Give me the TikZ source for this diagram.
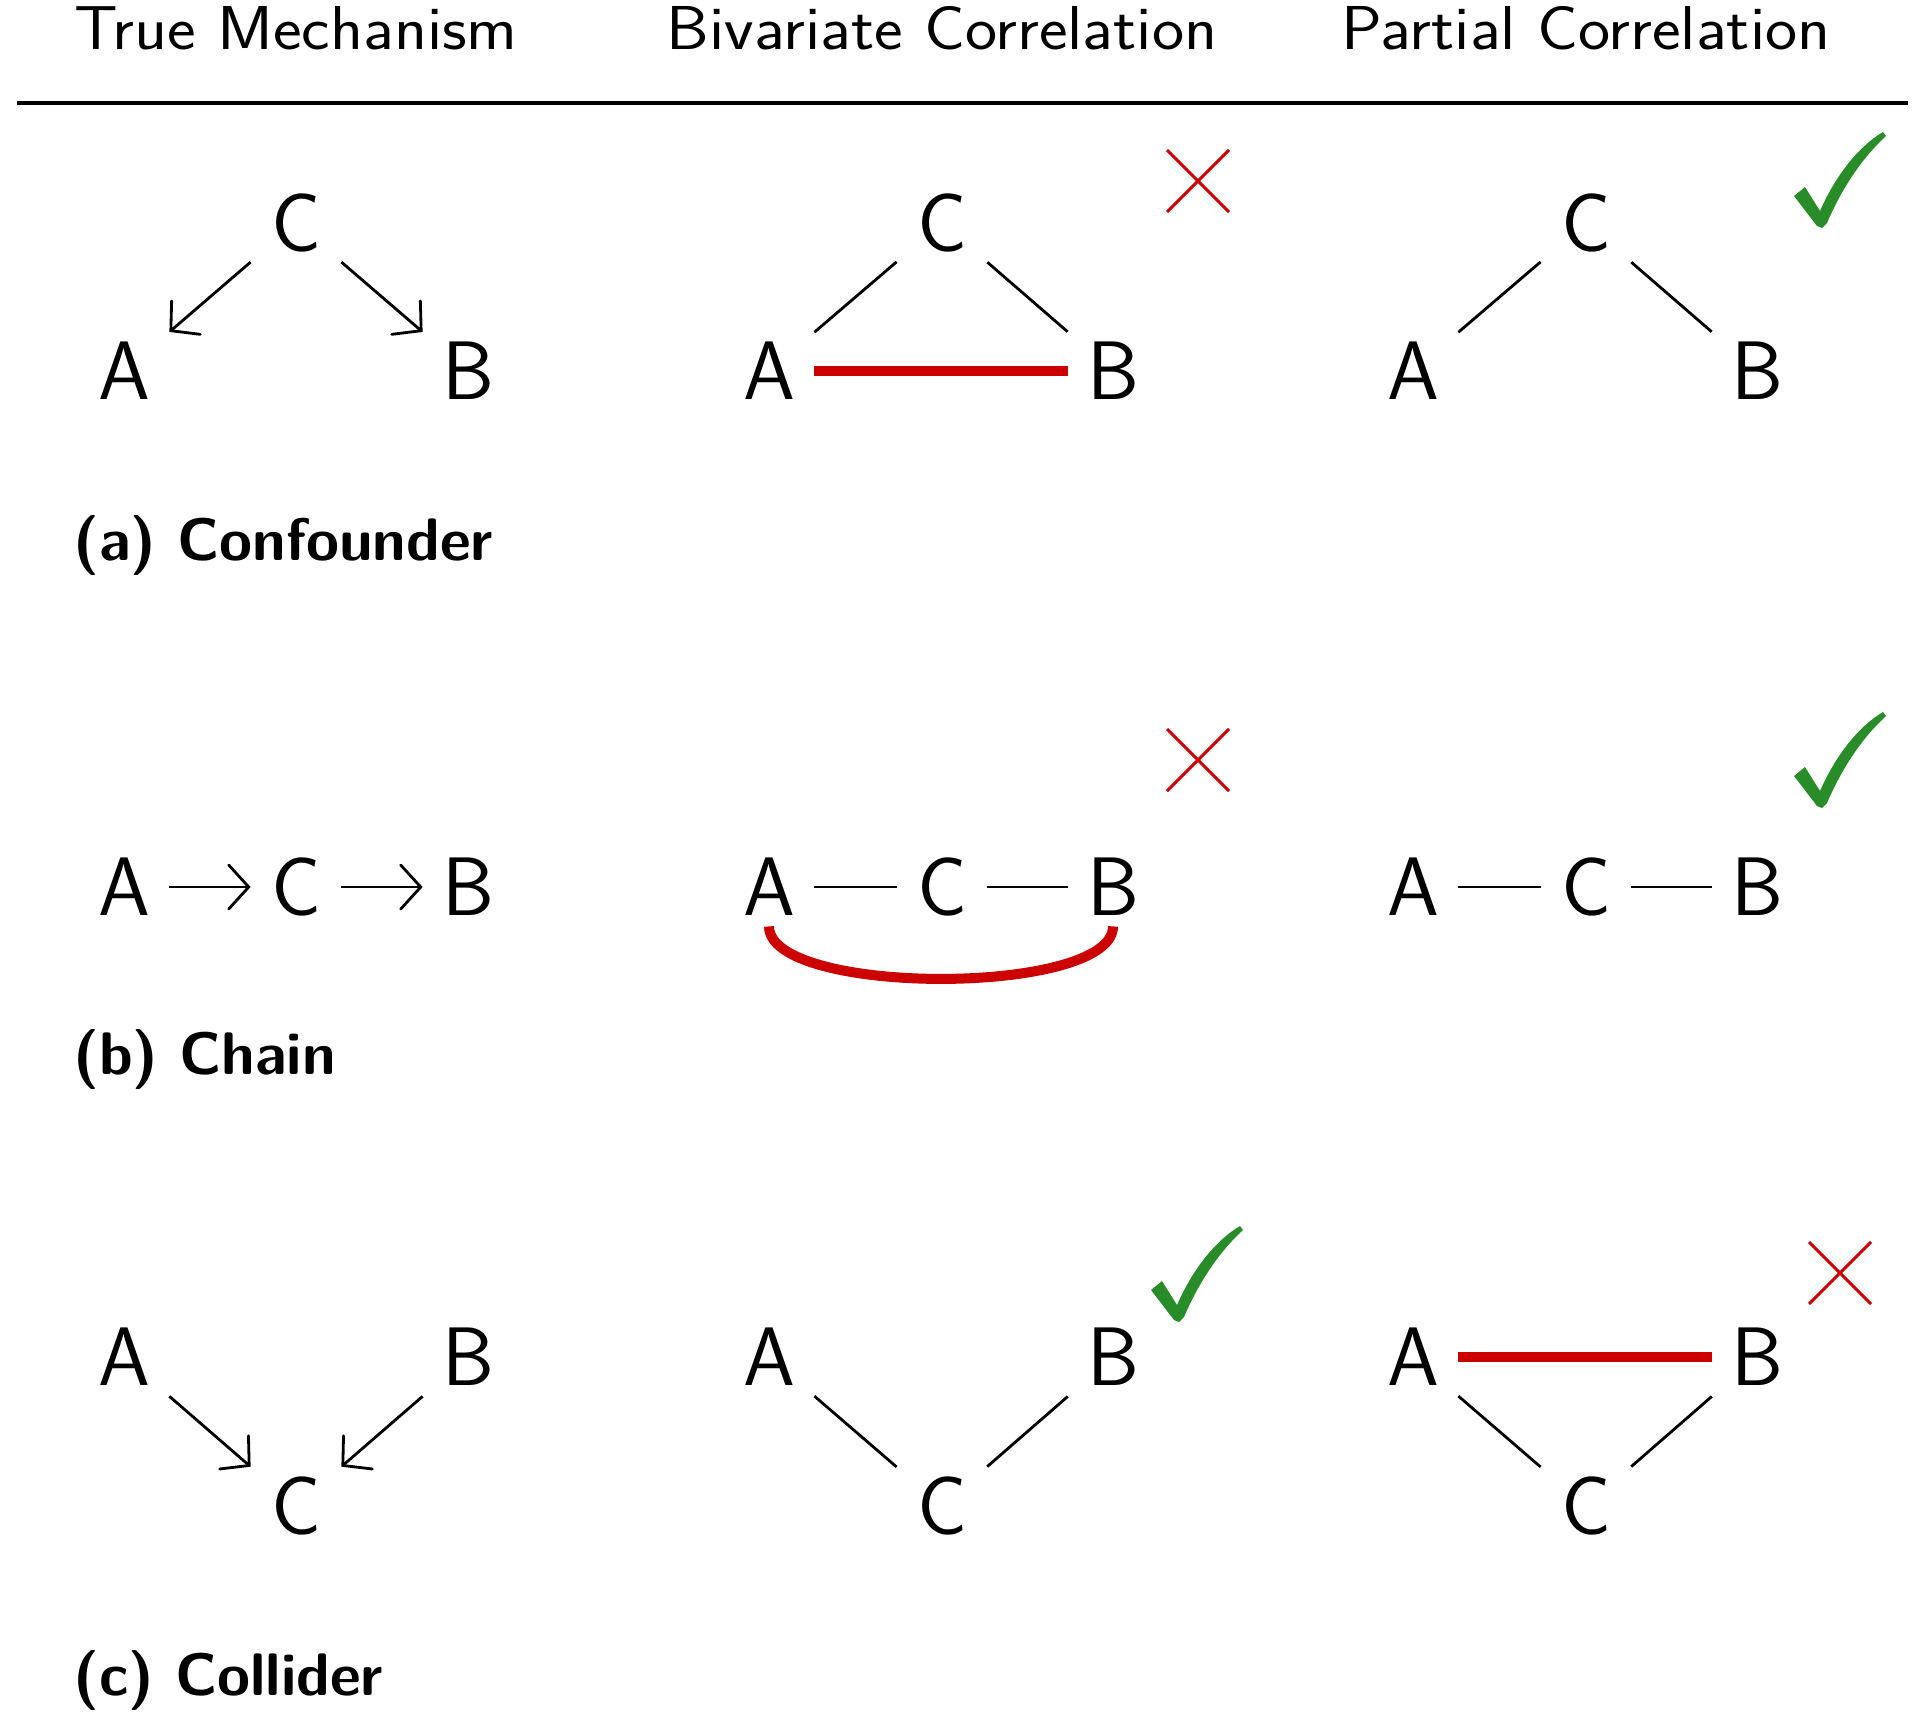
\documentclass[tikz,border=0pt]{standalone}
\usepackage{fontspec}
\usepackage{graphicx}
\usetikzlibrary{arrows.meta}
\definecolor{wrongred}{RGB}{204,0,0}
\definecolor{okgreen}{RGB}{40,140,40}
\newcommand{\hdrtext}[1]{\scalebox{1.1}[1]{#1}}
\tikzset{
  var/.style={font=\fontsize{41.5}{48}\selectfont\sffamily, minimum width=45pt, minimum height=39pt, inner sep=0pt},
  hdr/.style={font=\fontsize{31}{36}\selectfont\sffamily, anchor=base, inner sep=0pt},
  lab/.style={font=\fontsize{30}{36}\selectfont\sffamily\bfseries, anchor=base west, inner sep=0pt},
  edge/.style={line width=1.4pt},
  arr/.style={line width=1.4pt, -{Straight Barb[length=10pt,width=22pt,line cap=round]}},
  bad/.style={line width=5pt, draw=wrongred},
  wrongmark/.pic={\draw[wrongred, line width=1.5pt] (-31,-31) -- (31,31) (-31,31) -- (31,-31);},
  rightmark/.pic={\fill[okgreen] (-26,-28) -- (-15,-37) -- (0,-13) .. controls (14,-45) and (36,-76) .. (63,-92) -- (66,-88) .. controls (42,-66) and (22,-36) .. (7,-1) -- (2,4) -- (-3,2) -- cycle;}
}
\begin{document}
\begin{tikzpicture}[x=0.5pt, y=-0.5pt]
\useasboundingbox (0,0) rectangle (1920,1726);
% headers
\node[hdr] (h1) at (296,49) {\hdrtext{True Mechanism}};
\node[hdr] (h2) at (942,49) {\hdrtext{Bivariate Correlation}};
\node[hdr] (h3) at (1586,49) {\hdrtext{Partial Correlation}};
\coordinate (rl) at (17,103);
\coordinate (rr) at (1908,103);
\draw[line width=2pt] (rl) -- (rr);

% ---------- (a) Confounder ----------
\node[var] (a1C) at (296,223) {C};
\node[var] (a1A) at (124,371) {A};
\node[var] (a1B) at (468,371) {B};
\draw[arr] (a1C) -- (a1A);
\draw[arr] (a1C) -- (a1B);

\node[var] (a2C) at (942,223) {C};
\node[var] (a2A) at (769,371) {A};
\node[var] (a2B) at (1113,371) {B};
\draw[edge] (a2C) -- (a2A);
\draw[edge] (a2C) -- (a2B);
\draw[bad] (a2A) -- (a2B);
\pic (a2x) at (1198,181) {wrongmark};

\node[var] (a3C) at (1586,223) {C};
\node[var] (a3A) at (1413,371) {A};
\node[var] (a3B) at (1757,371) {B};
\draw[edge] (a3C) -- (a3A);
\draw[edge] (a3C) -- (a3B);
\pic (a3t) at (1820,224) {rightmark};

\node[lab] (la) at (73,560) {(a)\hspace{0.35em}Confounder};

% ---------- (b) Chain ----------
\node[var] (b1A) at (124,887) {A};
\node[var] (b1C) at (296,887) {C};
\node[var] (b1B) at (468,887) {B};
\draw[arr] (b1A) -- (b1C);
\draw[arr] (b1C) -- (b1B);

\node[var] (b2A) at (769,887) {A};
\node[var] (b2C) at (942,887) {C};
\node[var] (b2B) at (1113,887) {B};
\draw[edge] (b2A) -- (b2C);
\draw[edge] (b2C) -- (b2B);
\draw[bad] (b2A.south) .. controls +(0,70) and +(0,70) .. (b2B.south);
\pic (b2x) at (1198,760) {wrongmark};

\node[var] (b3A) at (1413,887) {A};
\node[var] (b3C) at (1586,887) {C};
\node[var] (b3B) at (1757,887) {B};
\draw[edge] (b3A) -- (b3C);
\draw[edge] (b3C) -- (b3B);
\pic (b3t) at (1820,804) {rightmark};

\node[lab] (lb) at (73,1074) {(b)\hspace{0.35em}Chain};

% ---------- (c) Collider ----------
\node[var] (c1A) at (124,1357) {A};
\node[var] (c1B) at (468,1357) {B};
\node[var] (c1C) at (296,1506) {C};
\draw[arr] (c1A) -- (c1C);
\draw[arr] (c1B) -- (c1C);

\node[var] (c2A) at (769,1357) {A};
\node[var] (c2B) at (1113,1357) {B};
\node[var] (c2C) at (942,1506) {C};
\draw[edge] (c2A) -- (c2C);
\draw[edge] (c2B) -- (c2C);
\pic (c2t) at (1177,1318) {rightmark};

\node[var] (c3A) at (1413,1357) {A};
\node[var] (c3B) at (1757,1357) {B};
\node[var] (c3C) at (1586,1506) {C};
\draw[edge] (c3A) -- (c3C);
\draw[edge] (c3B) -- (c3C);
\draw[bad] (c3A) -- (c3B);
\pic (c3x) at (1840,1273) {wrongmark};

\node[lab] (lc) at (73,1695) {(c)\hspace{0.35em}Collider};
\end{tikzpicture}
\end{document}
